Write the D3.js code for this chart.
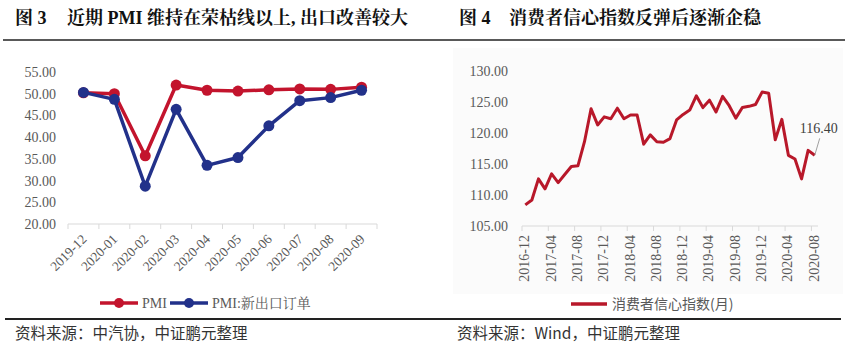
<!DOCTYPE html>
<html>
<head>
<meta charset="utf-8">
<script src="https://cdn.jsdelivr.net/npm/d3@7"></script>
<style>
  body { margin: 0; background: #fff; }
  text { font-family: "Liberation Serif", "Noto Serif CJK SC", "Noto Sans CJK SC", serif; }
</style>
</head>
<body>
<svg id="chart" width="848" height="351"></svg>
<script>
// figure 3: PMI
const pmiMonths = ["2019-12", "2020-01", "2020-02", "2020-03", "2020-04", "2020-05", "2020-06", "2020-07", "2020-08", "2020-09"];
const pmiValues = [50.2, 50.0, 35.7, 52.0, 50.8, 50.6, 50.9, 51.1, 51.0, 51.5];
const exportValues = [50.3, 48.7, 28.7, 46.4, 33.5, 35.3, 42.6, 48.4, 49.1, 50.8];
const pmiTicks = [20, 25, 30, 35, 40, 45, 50, 55];

// figure 4: consumer confidence
const ccMonths = ["2016-12",
  "2017-01", "2017-02", "2017-03", "2017-04", "2017-05", "2017-06", "2017-07", "2017-08", "2017-09", "2017-10", "2017-11", "2017-12",
  "2018-01", "2018-02", "2018-03", "2018-04", "2018-05", "2018-06", "2018-07", "2018-08", "2018-09", "2018-10", "2018-11", "2018-12",
  "2019-01", "2019-02", "2019-03", "2019-04", "2019-05", "2019-06", "2019-07", "2019-08", "2019-09", "2019-10", "2019-11", "2019-12",
  "2020-01", "2020-02", "2020-03", "2020-04", "2020-05", "2020-06", "2020-07", "2020-08"];
const ccValues = [108.4,
  109.2, 112.6, 111.0, 113.4, 112.0, 113.3, 114.6, 114.7, 118.6, 123.9, 121.3, 122.6,
  122.3, 124.0, 122.3, 122.9, 122.9, 118.2, 119.7, 118.6, 118.5, 119.1, 122.1, 123.0,
  123.7, 126.0, 124.1, 125.3, 123.4, 125.9, 124.4, 122.4, 124.1, 124.3, 124.6, 126.6,
  126.4, 118.9, 122.2, 116.4, 115.8, 112.6, 117.2, 116.4];
const ccTicks = [105, 110, 115, 120, 125, 130];

const red = "#c3142d";
const blue = "#22318a";
const cc = "#b8182a";
const grayText = "#595959";
const axisGray = "#d9d9d9";

const svg = d3.select("#chart");

// titles and rules
svg.append("text").attr("x", 15).attr("y", 24)
  .attr("font-size", 18).attr("font-weight", "bold").attr("fill", "#111")
  .text("图 3");
svg.append("text").attr("x", 67).attr("y", 24)
  .attr("font-size", 18).attr("font-weight", "bold").attr("fill", "#111")
  .text("近期 PMI 维持在荣枯线以上, 出口改善较大");
svg.append("text").attr("x", 459).attr("y", 24)
  .attr("font-size", 18).attr("font-weight", "bold").attr("fill", "#111")
  .text("图 4");
svg.append("text").attr("x", 509).attr("y", 24)
  .attr("font-size", 18).attr("font-weight", "bold").attr("fill", "#111")
  .text("消费者信心指数反弹后逐渐企稳");

svg.append("line").attr("x1", 3).attr("x2", 845).attr("y1", 40).attr("y2", 40)
  .attr("stroke", "#222").attr("stroke-width", 1.5);
svg.append("line").attr("x1", 5).attr("x2", 841).attr("y1", 319).attr("y2", 319)
  .attr("stroke", "#222").attr("stroke-width", 2);

svg.append("text").attr("x", 15).attr("y", 339)
  .attr("font-size", 15.5).attr("fill", "#333")
  .style("font-family", "'Noto Sans CJK SC', sans-serif")
  .text("资料来源：中汽协，中证鹏元整理");
svg.append("text").attr("x", 457).attr("y", 339)
  .attr("font-size", 15.5).attr("fill", "#333")
  .style("font-family", "'Noto Sans CJK SC', sans-serif")
  .text("资料来源：Wind，中证鹏元整理");

// ---------- left chart ----------
const x1 = d3.scaleBand().domain(pmiMonths).range([68, 377]);
const y1 = d3.scaleLinear().domain([20, 55]).range([224, 72]);

const left = svg.append("g");

left.append("g")
  .attr("transform", "translate(59,0)")
  .call(d3.axisLeft(y1).tickValues(pmiTicks).tickFormat(d3.format(".2f")).tickSize(0))
  .call(g => g.select(".domain").remove())
  .call(g => g.selectAll("text").attr("fill", grayText).attr("font-size", 14)
    .style("font-family", "'Liberation Serif', serif"));

left.append("line").attr("x1", 68).attr("x2", 377).attr("y1", 224).attr("y2", 224)
  .attr("stroke", axisGray);
left.selectAll(".tk").data(pmiMonths.concat(["end"])).enter().append("line")
  .attr("x1", d => d === "end" ? x1.range()[1] : x1(d))
  .attr("x2", d => d === "end" ? x1.range()[1] : x1(d))
  .attr("y1", 224).attr("y2", 229).attr("stroke", axisGray);

left.selectAll(".xl").data(pmiMonths).enter().append("text")
  .attr("transform", d => "translate(" + (x1(d) + x1.bandwidth() / 2 + 4) + ",240) rotate(-45)")
  .attr("text-anchor", "end").attr("font-size", 13.5).attr("fill", grayText)
  .text(d => d);

const line1 = d3.line()
  .x((d, i) => x1(pmiMonths[i]) + x1.bandwidth() / 2)
  .y(d => y1(d));

[[pmiValues, red], [exportValues, blue]].forEach(([vals, col]) => {
  left.append("path").datum(vals).attr("d", line1)
    .attr("fill", "none").attr("stroke", col).attr("stroke-width", 3.5)
    .attr("stroke-linejoin", "round");
  left.selectAll(null).data(vals).enter().append("circle")
    .attr("cx", (d, i) => x1(pmiMonths[i]) + x1.bandwidth() / 2)
    .attr("cy", d => y1(d)).attr("r", 5.5).attr("fill", col);
});

// legend
const legL = [{name: "PMI", col: red, x: 100}, {name: "PMI:新出口订单", col: blue, x: 170}];
legL.forEach(l => {
  left.append("line").attr("x1", l.x).attr("x2", l.x + 38).attr("y1", 303).attr("y2", 303)
    .attr("stroke", l.col).attr("stroke-width", 3.5);
  left.append("circle").attr("cx", l.x + 19).attr("cy", 303).attr("r", 5).attr("fill", l.col);
  left.append("text").attr("x", l.x + 42).attr("y", 308).attr("font-size", 14)
    .attr("fill", grayText).text(l.name);
});

// ---------- right chart ----------
const x2 = d3.scaleBand().domain(ccMonths).range([522, 818]);
const y2 = d3.scaleLinear().domain([105, 130]).range([226, 71]);

const right = svg.append("g");

right.append("rect").attr("x", 453).attr("y", 48).attr("width", 390).attr("height", 246)
  .attr("fill", "#fbfbfb");

right.append("g")
  .attr("transform", "translate(511,0)")
  .call(d3.axisLeft(y2).tickValues(ccTicks).tickFormat(d3.format(".2f")).tickSize(0))
  .call(g => g.select(".domain").remove())
  .call(g => g.selectAll("text").attr("fill", grayText).attr("font-size", 14)
    .style("font-family", "'Liberation Serif', serif"));

right.append("line").attr("x1", 522).attr("x2", 818).attr("y1", 226).attr("y2", 226)
  .attr("stroke", axisGray);

const ccLabeled = ccMonths.filter((d, i) => i % 4 === 0);
right.selectAll(".tk").data(ccLabeled).enter().append("line")
  .attr("x1", d => x2(d)).attr("x2", d => x2(d))
  .attr("y1", 226).attr("y2", 231).attr("stroke", axisGray);

right.selectAll(".xl").data(ccLabeled).enter().append("text")
  .attr("transform", d => "translate(" + (x2(d) + x2.bandwidth() / 2 + 4) + ",235) rotate(-90)")
  .attr("text-anchor", "end").attr("font-size", 14).attr("fill", grayText)
  .text(d => d);

const line2 = d3.line()
  .x((d, i) => x2(ccMonths[i]) + x2.bandwidth() / 2)
  .y(d => y2(d));

right.append("path").datum(ccValues).attr("d", line2)
  .attr("fill", "none").attr("stroke", cc).attr("stroke-width", 3)
  .attr("stroke-linejoin", "round");

// last value label
const lastI = ccValues.length - 1;
const lx = x2(ccMonths[lastI]) + x2.bandwidth() / 2;
const ly = y2(ccValues[lastI]);
right.append("line").attr("x1", lx).attr("y1", ly).attr("x2", lx + 5).attr("y2", ly - 17)
  .attr("stroke", "#888").attr("stroke-width", 0.8);
right.append("text").attr("x", lx + 4).attr("y", ly - 22).attr("text-anchor", "middle")
  .attr("font-size", 14).attr("fill", "#404040").text(ccValues[lastI].toFixed(2));

// legend
right.append("line").attr("x1", 571).attr("x2", 607).attr("y1", 304).attr("y2", 304)
  .attr("stroke", cc).attr("stroke-width", 3.5);
right.append("text").attr("x", 612).attr("y", 309).attr("font-size", 14)
  .attr("fill", grayText).style("font-family", "'Noto Sans CJK SC', sans-serif")
  .text("消费者信心指数(月)");
</script>
</body>
</html>
